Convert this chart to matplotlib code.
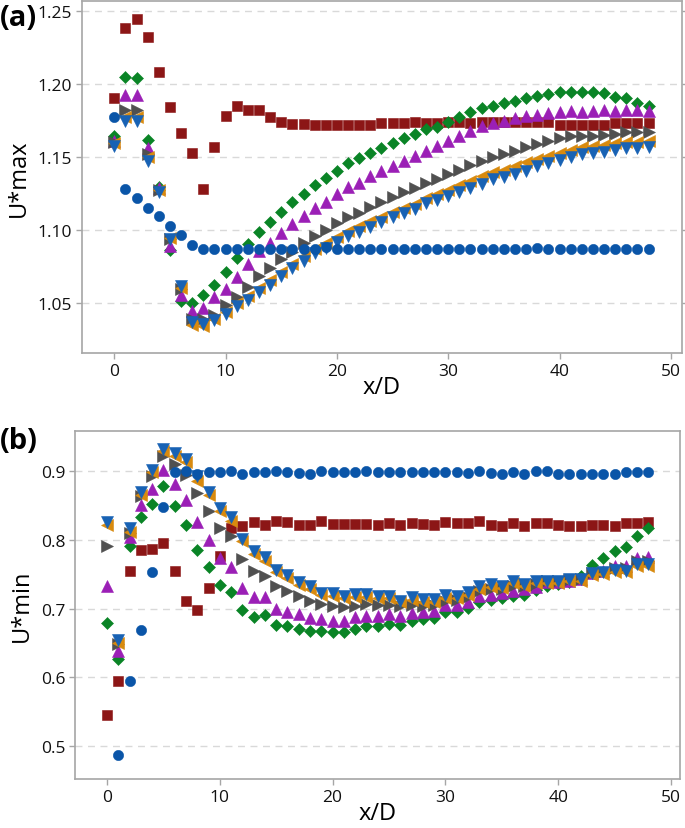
import numpy as np
import matplotlib
matplotlib.use("Agg")
import matplotlib.pyplot as plt

plt.rcParams['font.family'] = ['Open Sans', 'DejaVu Sans']

# x/D positions
x = list(range(49))

# ---------------- panel (a): U*max ----------------
circ_a = [1.177, 1.128, 1.1215, 1.1147, 1.1096, 1.1027, 1.0968, 1.0900, 1.0868, 1.0870,
          1.0870, 1.0870, 1.0868, 1.0868, 1.0868, 1.0868, 1.0868, 1.0868, 1.0868, 1.0880,
          1.0868, 1.0872, 1.0868, 1.0868, 1.0868, 1.0868, 1.0868, 1.0868, 1.0868, 1.0866,
          1.0872, 1.0872, 1.0872, 1.0872, 1.0872, 1.0872, 1.0872, 1.0866, 1.0876, 1.0866,
          1.0866, 1.0866, 1.0866, 1.0866, 1.0866, 1.0866, 1.0866, 1.0866, 1.0866]
sq_a = [1.190, 1.238, 1.2443, 1.2318, 1.2082, 1.1838, 1.166, 1.1523, 1.1283, 1.1569,
        1.178, 1.185, 1.182, 1.182, 1.177, 1.1735, 1.1726, 1.1726, 1.1717, 1.1717,
        1.1717, 1.1717, 1.1717, 1.1717, 1.1729, 1.1729, 1.1729, 1.174, 1.1729, 1.1729,
        1.1735, 1.1735, 1.1730, 1.1735, 1.1735, 1.1735, 1.1735, 1.1735, 1.1735, 1.1735,
        1.1719, 1.1719, 1.1719, 1.1719, 1.1719, 1.1730, 1.1730, 1.1730, 1.1730]
dia_a = [1.164, 1.2044, 1.2037, 1.1616, 1.1295, 1.0861, 1.0514, 1.0503, 1.0553, 1.0620,
         1.0713, 1.0807, 1.0903, 1.0987, 1.1055, 1.1123, 1.1192, 1.1245, 1.1306, 1.1352,
         1.1404, 1.1455, 1.1493, 1.1523, 1.1557, 1.1592, 1.1626, 1.1655, 1.1690, 1.1705,
         1.1740, 1.1770, 1.1804, 1.1831, 1.1849, 1.1868, 1.1884, 1.1900, 1.1914, 1.1929,
         1.1941, 1.1945, 1.1941, 1.1941, 1.1936, 1.1907, 1.1900, 1.1868, 1.1849]
up_a = [1.1610, 1.1925, 1.1925, 1.1560, 1.1290, 1.0890, 1.0553, 1.0445, 1.0468, 1.0539,
        1.0598, 1.0676, 1.0770, 1.0856, 1.0909, 1.0977, 1.1039, 1.1092, 1.1147, 1.1192,
        1.1245, 1.1295, 1.1324, 1.1370, 1.1404, 1.1438, 1.1471, 1.1507, 1.1539, 1.1573,
        1.1610, 1.1644, 1.1678, 1.1712, 1.1731, 1.1747, 1.1763, 1.1777, 1.1786, 1.1797,
        1.1808, 1.1815, 1.1808, 1.1815, 1.1822, 1.1815, 1.1822, 1.1822, 1.1815]
right_a = [1.1600, 1.1820, 1.1820, 1.1518, 1.1274, 1.0941, 1.0598, 1.0388, 1.0388, 1.0416,
           1.0486, 1.0544, 1.0612, 1.0685, 1.0736, 1.0799, 1.0852, 1.0909, 1.0959, 1.1000,
           1.1044, 1.1089, 1.1119, 1.1160, 1.1192, 1.1226, 1.1256, 1.1284, 1.1318, 1.1347,
           1.1382, 1.1409, 1.1443, 1.1473, 1.1496, 1.1518, 1.1541, 1.1564, 1.1587, 1.1610,
           1.1626, 1.1640, 1.1640, 1.1644, 1.1649, 1.1655, 1.1667, 1.1667, 1.1671]
left_a = [1.1595, 1.1770, 1.1770, 1.1500, 1.1270, 1.0945, 1.0605, 1.0350, 1.0345, 1.0390,
          1.0440, 1.0500, 1.0550, 1.0605, 1.0655, 1.0715, 1.0770, 1.0820, 1.0870, 1.0910,
          1.0950, 1.0990, 1.1025, 1.1060, 1.1090, 1.1120, 1.1150, 1.1180, 1.1215, 1.1245,
          1.1274, 1.1306, 1.1336, 1.1366, 1.1393, 1.1411, 1.1438, 1.1462, 1.1484, 1.1507,
          1.1525, 1.1548, 1.1564, 1.1575, 1.1580, 1.1594, 1.1598, 1.1598, 1.1610]
down_a = [1.1573, 1.1742, 1.1742, 1.1473, 1.1256, 1.0941, 1.0617, 1.0370, 1.0354, 1.0381,
          1.0423, 1.0479, 1.0520, 1.0575, 1.0621, 1.0685, 1.0742, 1.0788, 1.0840, 1.0879,
          1.0914, 1.0955, 1.0987, 1.1023, 1.1055, 1.1085, 1.1114, 1.1142, 1.1183, 1.1205,
          1.1233, 1.1256, 1.1290, 1.1313, 1.1347, 1.1359, 1.1382, 1.1404, 1.1434, 1.1457,
          1.1479, 1.1502, 1.1518, 1.1525, 1.1534, 1.1548, 1.1557, 1.1557, 1.1564]

# ---------------- panel (b): U*min ----------------
nan = np.nan
circ_b = [nan, 0.4876, 0.5943, 0.6690, 0.7530, 0.8476, 0.8985, 0.9000, 0.8960, 0.8985,
          0.8990, 0.9000, 0.8960, 0.8990, 0.8990, 0.9009, 0.8994, 0.8975, 0.8960, 0.9009,
          0.8985, 0.8985, 0.8994, 0.9009, 0.8994, 0.8994, 0.8985, 0.8994, 0.8994, 0.8994,
          0.8994, 0.8994, 0.8975, 0.9009, 0.8975, 0.8960, 0.8985, 0.8960, 0.9009, 0.9009,
          0.8960, 0.8960, 0.8960, 0.8960, 0.8960, 0.8960, 0.8985, 0.8994, 0.8994]
sq_b = [0.5457, 0.5952, 0.7544, 0.7854, 0.7869, 0.7956, 0.7544, 0.7117, 0.6986, 0.7297,
        0.7768, 0.8170, 0.8204, 0.8267, 0.8218, 0.8281, 0.8257, 0.8218, 0.8218, 0.8281,
        0.8233, 0.8233, 0.8233, 0.8233, 0.8218, 0.8248, 0.8218, 0.8248, 0.8233, 0.8218,
        0.8257, 0.8248, 0.8248, 0.8281, 0.8218, 0.8200, 0.8248, 0.8200, 0.8248, 0.8248,
        0.8218, 0.8200, 0.8200, 0.8218, 0.8218, 0.8200, 0.8248, 0.8248, 0.8267]
dia_b = [0.6787, 0.6260, 0.7910, 0.8330, 0.8524, 0.8781, 0.8500, 0.8220, 0.7857, 0.7600,
         0.7348, 0.7250, 0.6984, 0.6875, 0.6908, 0.6767, 0.6744, 0.6705, 0.6671, 0.6671,
         0.6656, 0.6656, 0.6705, 0.6753, 0.6753, 0.6777, 0.6767, 0.6826, 0.6850, 0.6868,
         0.6957, 0.6957, 0.7005, 0.7093, 0.7131, 0.7151, 0.7190, 0.7200, 0.7277, 0.7326,
         0.7360, 0.7393, 0.7480, 0.7636, 0.7733, 0.7844, 0.7894, 0.8063, 0.8170]
up_b = [0.7335, 0.6380, 0.8050, 0.8505, 0.8738, 0.9016, 0.8810, 0.8587, 0.8257, 0.7995,
        0.7743, 0.7614, 0.7304, 0.7166, 0.7166, 0.6996, 0.6957, 0.6923, 0.6865, 0.6850,
        0.6826, 0.6826, 0.6875, 0.6899, 0.6899, 0.6923, 0.6899, 0.6937, 0.6947, 0.6971,
        0.7060, 0.7060, 0.7102, 0.7190, 0.7200, 0.7229, 0.7262, 0.7287, 0.7311, 0.7384,
        0.7384, 0.7408, 0.7432, 0.7520, 0.7553, 0.7626, 0.7626, 0.7733, 0.7748]
right_b = [0.7917, 0.6486, 0.8102, 0.8636, 0.8930, 0.9220, 0.9106, 0.8946, 0.8677, 0.8420,
           0.8180, 0.8051, 0.7728, 0.7553, 0.7480, 0.7326, 0.7262, 0.7190, 0.7117, 0.7068,
           0.7035, 0.7020, 0.7044, 0.7068, 0.7054, 0.7054, 0.7044, 0.7054, 0.7035, 0.7054,
           0.7117, 0.7125, 0.7170, 0.7258, 0.7280, 0.7282, 0.7335, 0.7323, 0.7360, 0.7396,
           0.7396, 0.7420, 0.7432, 0.7520, 0.7540, 0.7597, 0.7590, 0.7690, 0.7700]
left_b = [0.8215, 0.6500, 0.8120, 0.8650, 0.8990, 0.9290, 0.9230, 0.9130, 0.8860, 0.8660,
          0.8420, 0.8280, 0.7980, 0.7800, 0.7700, 0.7530, 0.7450, 0.7350, 0.7290, 0.7200,
          0.7190, 0.7150, 0.7170, 0.7175, 0.7150, 0.7150, 0.7090, 0.7125, 0.7100, 0.7100,
          0.7160, 0.7150, 0.7200, 0.7290, 0.7320, 0.7300, 0.7370, 0.7330, 0.7370, 0.7375,
          0.7380, 0.7400, 0.7405, 0.7490, 0.7500, 0.7540, 0.7530, 0.7620, 0.7625]
down_b = [0.8267, 0.6549, 0.8180, 0.8694, 0.9021, 0.9320, 0.9266, 0.9175, 0.8930, 0.8698,
          0.8470, 0.8330, 0.8020, 0.7844, 0.7748, 0.7568, 0.7490, 0.7393, 0.7335, 0.7229,
          0.7229, 0.7190, 0.7214, 0.7214, 0.7190, 0.7190, 0.7117, 0.7166, 0.7141, 0.7135,
          0.7200, 0.7190, 0.7239, 0.7326, 0.7360, 0.7335, 0.7408, 0.7360, 0.7408, 0.7408,
          0.7408, 0.7432, 0.7432, 0.7520, 0.7530, 0.7568, 0.7553, 0.7650, 0.7650]

# marker style per series: (marker, color, size)
styles = [
    ('s', '#8c1616', 7.0),
    ('D', '#0a8426', 5.8),
    ('^', '#9b1fb6', 8.0),
    ('>', '#505050', 8.0),
    ('<', '#d88a0e', 8.0),
    ('v', '#1862b4', 8.0),
    ('o', '#0a55a8', 7.4),
]

frame_col = '#a6a6a6'


def draw_panel(ax, series, yticks, yfmt, ylim, xlim, ylabel, right_ticks):
    for (m, c, ms), ys in zip(styles, series):
        ax.plot(x, ys, linestyle='none', marker=m, color=c, ms=ms,
                mec=c, mew=0.4, zorder=3)
    ax.set_xlim(*xlim)
    ax.set_ylim(*ylim)
    ax.set_xticks([0, 10, 20, 30, 40, 50])
    ax.set_yticks(yticks)
    ax.set_yticklabels([yfmt.format(v) for v in yticks])
    for v in yticks:
        ax.axhline(v, color='#d9d9d9', lw=1.0, ls=(0, (5, 4)), zorder=1)
    for sp in ax.spines.values():
        sp.set_color(frame_col)
        sp.set_linewidth(1.2)
    ax.tick_params(axis='both', direction='out', length=4, width=1,
                   color=frame_col, labelsize=12.5, labelcolor='#111111', pad=3)
    if right_ticks:
        ax.tick_params(axis='y', right=True)
    ax.set_xlabel('x/D', fontsize=17, labelpad=-3)
    ax.set_ylabel(ylabel, fontsize=17, labelpad=5)


fig = plt.figure(figsize=(6.85, 8.29), dpi=100)

ax_a = fig.add_axes([0.1197, 0.573, 0.8759, 0.4246])
draw_panel(ax_a, [sq_a, dia_a, up_a, right_a, left_a, down_a, circ_a],
           [1.05, 1.10, 1.15, 1.20, 1.25], '{:.2f}', (1.0158, 1.2566),
           (-2.9, 51.0), 'U*max', True)

ax_b = fig.add_axes([0.1095, 0.0591, 0.8832, 0.4198])
draw_panel(ax_b, [sq_b, dia_b, up_b, right_b, left_b, down_b, circ_b],
           [0.5, 0.6, 0.7, 0.8, 0.9], '{:.1f}', (0.452, 0.9587),
           (-2.84, 50.8), 'U*min', False)

fig.text(0.0, 1 - 18 / 829, '(a)', fontsize=21, fontweight='bold', va='center', ha='left')
fig.text(0.0, 1 - 442 / 829, '(b)', fontsize=21, fontweight='bold', va='center', ha='left')

fig.savefig('out.png', dpi=100)
